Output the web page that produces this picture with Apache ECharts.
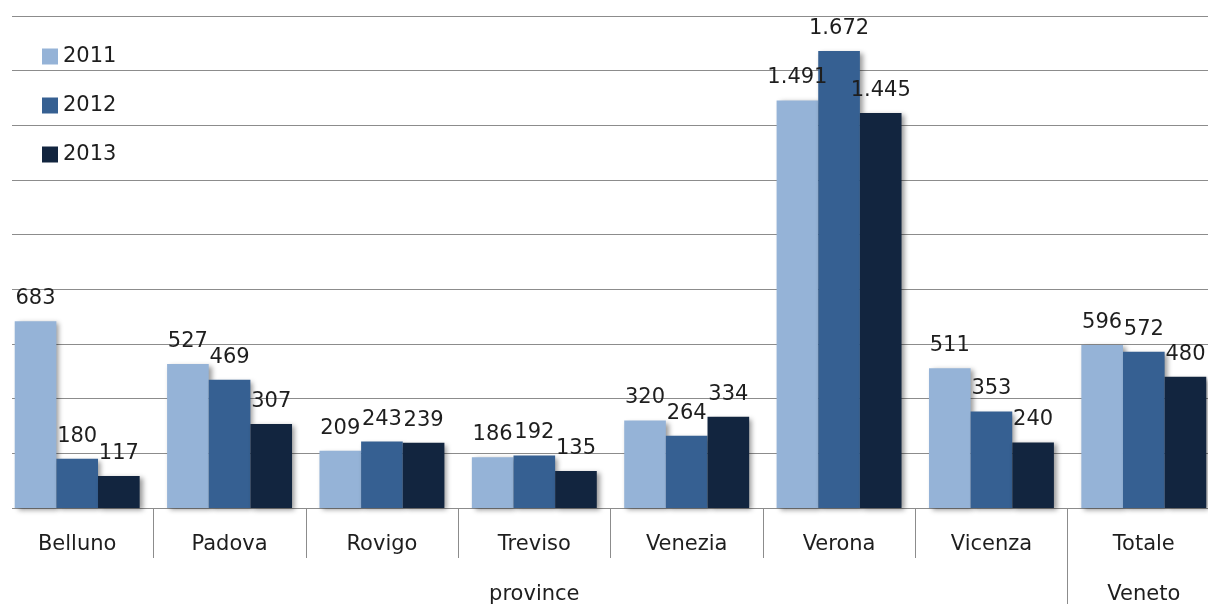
<!DOCTYPE html>
<html><head><meta charset="utf-8">
<script src="https://cdn.jsdelivr.net/npm/echarts@6/dist/echarts.min.js"></script>
<style>html,body{margin:0;padding:0;background:#fff;overflow:hidden}#c{width:1208px;height:604px}</style>
</head><body><div id="c"></div>
<script>
const categories = ['Belluno','Padova','Rovigo','Treviso','Venezia','Verona','Vicenza','Totale'];
const groupLabels = ['','','','province','','','','Veneto'];
const s2011 = [683,527,209,186,320,1491,511,596];
const s2012 = [180,469,243,192,264,1672,353,572];
const s2013 = [117,307,239,135,334,1445,240,480];
const seriesNames = ['2011','2012','2013'];
const colors = ['#95B3D7','#366092','#12253F'];
const FONT = 'DejaVu Sans';
const FS = 21;
const TXT = '#1e1e1e';
const fmt = v => String(Math.round(v)).replace(/\B(?=(\d{3})+(?!\d))/g, '.');
const chart = echarts.init(document.getElementById('c'));
const mk = (name, data, color) => ({
  name, type: 'bar', data, barGap: '0%', barCategoryGap: '18%',
  itemStyle: {color, shadowColor: 'rgba(0,0,0,0.4)', shadowBlur: 5, shadowOffsetX: 3, shadowOffsetY: 2},
  label: {show: true, position: 'top', distance: 12, fontFamily: FONT, fontSize: FS, color: TXT,
    formatter: p => fmt(p.value)},
  animation: false
});
chart.setOption({
  animation: false,
  grid: {left: 1, width: 1219, top: 16, height: 492, containLabel: false, outerBoundsMode: 'none'},
  legend: {
    orient: 'vertical', left: 42, top: 46, padding: 0, itemWidth: 16, itemHeight: 16, itemGap: 28,
    icon: 'rect', textStyle: {fontFamily: FONT, fontSize: FS, color: TXT},
    data: seriesNames
  },
  xAxis: [{
    type: 'category', data: categories,
    axisLine: {lineStyle: {color: '#8c8c8c', width: 1}},
    axisTick: {show: true, length: 50, lineStyle: {color: '#8c8c8c'}},
    axisLabel: {margin: 26, fontFamily: FONT, fontSize: FS, color: TXT, interval: 0}
  }, {
    type: 'category', data: groupLabels, position: 'bottom', offset: 50,
    axisLine: {show: false}, axisTick: {show: false},
    axisLabel: {margin: 26, fontFamily: FONT, fontSize: FS, color: TXT, interval: 0}
  }],
  yAxis: {
    type: 'value', min: 0, max: 1800, interval: 200,
    axisLabel: {show: false}, axisLine: {show: false}, axisTick: {show: false},
    splitLine: {lineStyle: {color: '#8c8c8c', width: 1}}
  },
  series: [mk(seriesNames[0], s2011, colors[0]), mk(seriesNames[1], s2012, colors[1]), mk(seriesNames[2], s2013, colors[2])]
});
const x6 = chart.convertToPixel({xAxisIndex: 0}, categories[6]);
const x7 = chart.convertToPixel({xAxisIndex: 0}, categories[7]);
const xb = Math.round((x6 + x7) / 2) - 0.5;
const yAxisPx = chart.convertToPixel({yAxisIndex: 0}, 0);
chart.setOption({
  graphic: [
    {type: 'rect', shape: {x: 0, y: 0, width: 12, height: 604}, style: {fill: '#fff'}, z: 100, silent: true},
    {type: 'line', shape: {x1: xb, y1: yAxisPx + 50, x2: xb, y2: 604}, style: {stroke: '#8c8c8c', lineWidth: 1}, z: 100, silent: true}
  ]
});
</script></body></html>
